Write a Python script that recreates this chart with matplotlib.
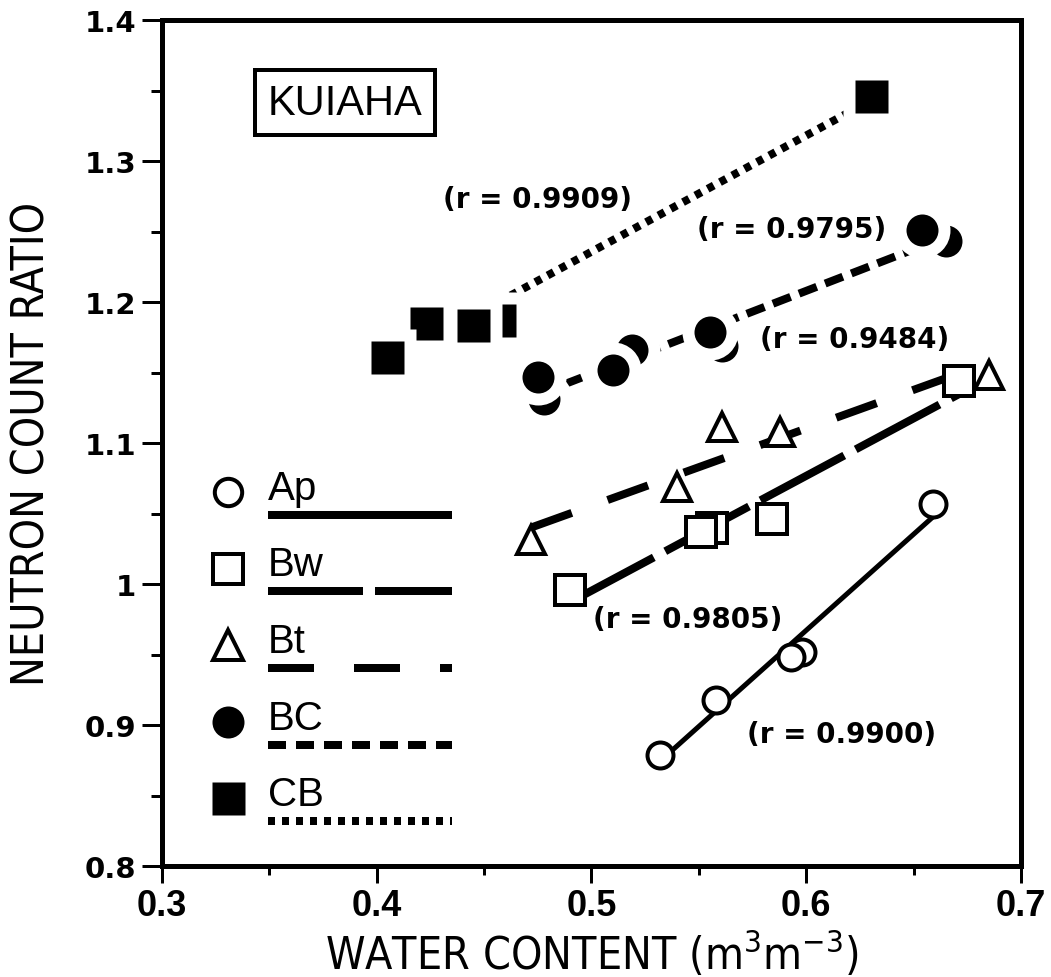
import numpy as np
import matplotlib
matplotlib.use("Agg")
import matplotlib.pyplot as plt
from matplotlib import font_manager as fm
from matplotlib.font_manager import FontProperties

# ---------------- data ----------------
ap_x = [0.532, 0.558, 0.598, 0.593, 0.659]
ap_y = [0.879, 0.918, 0.952, 0.948, 1.057]

bw_x = [0.490, 0.556, 0.551, 0.584, 0.671]
bw_y = [0.996, 1.040, 1.037, 1.046, 1.144]

bt_x = [0.472, 0.540, 0.561, 0.588, 0.685]
bt_y = [1.031, 1.069, 1.111, 1.108, 1.148]

bc_x = [0.478, 0.519, 0.561, 0.665, 0.475, 0.510, 0.555, 0.654]
bc_y = [1.131, 1.166, 1.169, 1.243, 1.147, 1.152, 1.179, 1.251]

cb_x = [0.423, 0.457, 0.405, 0.445, 0.630]
cb_y = [1.185, 1.187, 1.161, 1.184, 1.346]

horizons = ["Ap", "Bw", "Bt", "BC", "CB"]
r_labels = ["(r = 0.9900)", "(r = 0.9805)", "(r = 0.9484)", "(r = 0.9795)", "(r = 0.9909)"]

x_ticks = [0.3, 0.4, 0.5, 0.6, 0.7]
x_tick_labels = ["0.3", "0.4", "0.5", "0.6", "0.7"]
y_ticks = [0.8, 0.9, 1.0, 1.1, 1.2, 1.3, 1.4]
y_tick_labels = ["0.8", "0.9", "1", "1.1", "1.2", "1.3", "1.4"]
site_name = "KUIAHA"

# ---------------- styling helpers ----------------
DPI = 100
PX = 72.0 / DPI          # points per pixel


def px(v):
    return v * PX


names = {f.name for f in fm.fontManager.ttflist}
if "Liberation Sans Narrow" in names:
    narrow = FontProperties(family="Liberation Sans Narrow")
    narrow_name = "Liberation Sans Narrow"
else:
    narrow = FontProperties(family="DejaVu Sans", stretch="condensed")
    narrow_name = "DejaVu Sans"
plain_name = "Liberation Sans" if "Liberation Sans" in names else "DejaVu Sans"

plt.rcParams["lines.scale_dashes"] = False
plt.rcParams["mathtext.fontset"] = "custom"
plt.rcParams["mathtext.rm"] = narrow_name
plt.rcParams["mathtext.it"] = narrow_name
plt.rcParams["mathtext.default"] = "regular"

fig = plt.figure(figsize=(10.51, 9.78), dpi=DPI)
L, R, B, T = 162, 1021, 867, 21
W, H = 1051, 978
ax = fig.add_axes([L / W, 1 - B / H, (R - L) / W, (B - T) / H])
ax.set_xlim(0.3, 0.7)
ax.set_ylim(0.8, 1.4)

series = [
    dict(x=ap_x, y=ap_y, marker="o", filled=False, ms=18.7, lw=px(5), dashes=None),
    dict(x=bw_x, y=bw_y, marker="s", filled=False, ms=20.9, lw=px(8), dashes=(px(95), px(13))),
    dict(x=bt_x, y=bt_y, marker="^", filled=False, ms=20.5, lw=px(8), dashes=(px(43), px(38))),
    dict(x=bc_x, y=bc_y, marker="o", filled=True, ms=px(32), lw=px(8), dashes=(px(19), px(9))),
    dict(x=cb_x, y=cb_y, marker="s", filled=True, ms=px(33), lw=px(8), dashes=(px(7), px(7))),
]
legend_dashes = [None, (px(95), px(12)), (px(46), px(40)), (px(18), px(10)), (px(7), px(7))]

HALO = px(24)
EDGE = px(4)

for k, s in enumerate(series):
    x = np.asarray(s["x"])
    y = np.asarray(s["y"])
    slope, icpt = np.polyfit(x, y, 1)
    xs = np.array([x.min(), x.max()])
    line, = ax.plot(xs, slope * xs + icpt, color="black", lw=s["lw"],
                    solid_capstyle="butt", dash_capstyle="butt", zorder=2)
    if s["dashes"] is not None:
        line.set_dashes(s["dashes"])

    if s["filled"]:
        # each symbol blanks out a margin around itself before it is inked
        for i in range(len(x)):
            z = 3 + 0.02 * i
            ax.plot(x[i], y[i], ls="none", marker=s["marker"], ms=s["ms"] + HALO,
                    mfc="white", mec="none", zorder=z)
            ax.plot(x[i], y[i], ls="none", marker=s["marker"], ms=s["ms"],
                    mfc="black", mec="none", zorder=z + 0.01)
    else:
        ax.plot(x, y, ls="none", marker=s["marker"], ms=s["ms"], mfc="white",
                mec="black", mew=EDGE, zorder=4)

# correlation coefficients beside each fitted line
r_pos = [(0.5724, 0.8935), (0.5007, 0.975), (0.5785, 1.1735), (0.5491, 1.2515), (0.4309, 1.2727)]
for lab, (tx, ty) in zip(r_labels, r_pos):
    ax.text(tx, ty, lab, ha="left", va="center", fontsize=20,
            fontweight="bold", family="DejaVu Sans", zorder=6)

# site name box
ax.text(0.213, 0.902, site_name, transform=ax.transAxes, ha="center", va="center",
        fontsize=30, family=plain_name, zorder=6,
        bbox=dict(boxstyle="square,pad=0.3", fc="white", ec="black", lw=px(4)))

# key: symbol, horizon name, and line style underneath
key_x_sym, key_x_text, key_x_end = 0.0768, 0.1234, 0.3376
key_y0, key_step = 0.442, 0.0905
for k, (s, name) in enumerate(zip(series, horizons)):
    yk = key_y0 - k * key_step
    if s["filled"]:
        ax.plot(key_x_sym, yk, transform=ax.transAxes, ls="none", marker=s["marker"],
                ms=s["ms"], mfc="black", mec="none", zorder=5)
    else:
        ax.plot(key_x_sym, yk, transform=ax.transAxes, ls="none", marker=s["marker"],
                ms=s["ms"] + 1, mfc="white", mec="black", mew=EDGE, zorder=5)
    ax.text(key_x_text, yk - 0.008, name, transform=ax.transAxes, ha="left",
            va="baseline", fontsize=29, family=plain_name, zorder=5)
    ln, = ax.plot([key_x_text, key_x_end], [yk - 0.027, yk - 0.027], transform=ax.transAxes,
                  color="black", lw=px(8), solid_capstyle="butt", dash_capstyle="butt", zorder=5)
    if legend_dashes[k] is not None:
        ln.set_dashes(legend_dashes[k])

# axes frame and ticks
for sp in ax.spines.values():
    sp.set_linewidth(px(5))
ax.set_xticks(x_ticks)
ax.set_xticklabels(x_tick_labels)
ax.set_yticks(y_ticks)
ax.set_yticklabels(y_tick_labels)
ax.set_xticks(np.arange(0.35, 0.7, 0.1), minor=True)
ax.set_yticks(np.arange(0.85, 1.4, 0.1), minor=True)
ax.tick_params(axis="y", which="major", direction="out", length=px(20), width=px(3), pad=px(6))
ax.tick_params(axis="y", which="minor", direction="out", length=px(11), width=px(3))
ax.tick_params(axis="x", which="major", direction="out", length=px(17), width=px(3), pad=px(5))
ax.tick_params(axis="x", which="minor", direction="out", length=px(9), width=px(3))

for lbl in ax.get_xticklabels():
    lbl.set_fontproperties(FontProperties(family=plain_name, weight="bold", size=26))
for lbl in ax.get_yticklabels():
    lbl.set_fontproperties(FontProperties(family="DejaVu Sans", weight="bold", size=21))

lab_fp = narrow.copy()
lab_fp.set_size(32)
ax.set_xlabel(r"WATER CONTENT (m$^{3}$m$^{-3}$)", fontproperties=lab_fp, labelpad=px(4))
ax.set_ylabel("NEUTRON COUNT RATIO", fontproperties=lab_fp)
ax.yaxis.set_label_coords(-0.126, 0.5)

fig.savefig("out.png", dpi=DPI, facecolor="white")
